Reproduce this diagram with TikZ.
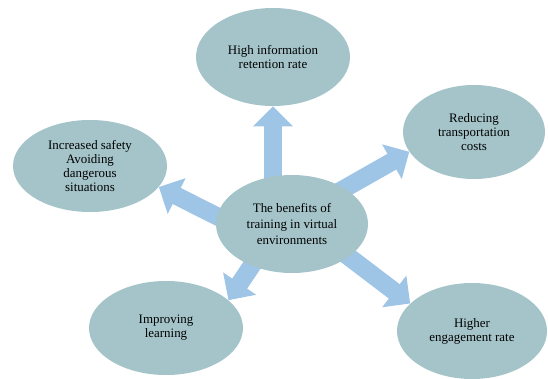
\documentclass[tikz,border=0pt]{standalone}
\usepackage{fontspec}
\setmainfont{Liberation Serif}
\usepackage{tikz}
\usepackage{xcolor}
\definecolor{ovalFill}{RGB}{164,196,201}
\definecolor{arrowBlue}{RGB}{158,196,230}
\usetikzlibrary{shapes.geometric}
\usetikzlibrary{arrows.meta}
\usetikzlibrary{backgrounds}

\begin{document}
\begin{tikzpicture}[x=0.75pt, y=-0.75pt,
    oval/.style={ellipse, fill=ovalFill, draw=none, inner sep=0pt, align=center,
      font=\fontsize{9.7}{10.5}\selectfont},
    fat/.style={line width=13.5pt, draw=arrowBlue, shorten <=-10pt,
      -{Triangle[width=29pt, length=15pt]}}]
        \useasboundingbox (0,0) rectangle (548,378);
        \node [oval, minimum width=114pt, minimum height=73.5pt,
          font=\fontsize{9.7}{12}\selectfont] (c) at (292,224)
          {The benefits of\\training in virtual\\environments};
        \node [oval, minimum width=115.5pt, minimum height=73.5pt] (hi) at (273,57)
          {High information\\retention rate};
        \node [oval, minimum width=115.5pt, minimum height=69pt] (sf) at (90,166)
          {Increased safety\\Avoiding\\dangerous\\situations};
        \node [oval, minimum width=106.5pt, minimum height=70.5pt] (rd) at (474,132)
          {Reducing\\transportation\\costs};
        \node [oval, minimum width=115.5pt, minimum height=70.5pt] (ll) at (166,328)
          {Improving\\learning};
        \node [oval, minimum width=112.5pt, minimum height=72pt] (hr) at (472,331)
          {Higher\\engagement rate};
        \begin{scope}[on background layer]
          \draw [fat] (hi.south |- c.center) -- (hi.south);
          \draw [fat] (c.34) -- (rd.197);
          \draw [fat] (c.174) -- (sf.-17);
          \draw [fat] (c.-134) -- (ll.24);
          \draw [fat] (c.-30) -- (hr.156);
        \end{scope}
      \end{tikzpicture}
\end{document}
